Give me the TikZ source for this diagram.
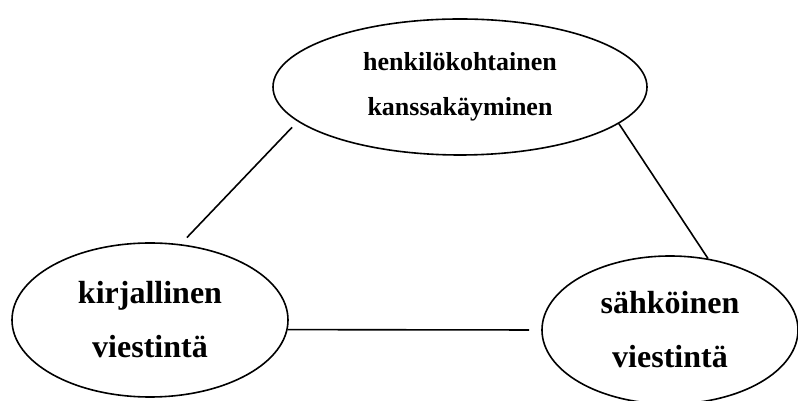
\documentclass[tikz,border=0pt]{standalone}
\usepackage{fontspec}
\setmainfont{Liberation Serif}
\usetikzlibrary{shapes.geometric}

\begin{document}
\begin{tikzpicture}[
    x=1pt, y=1pt,
    bubble/.style={ellipse, draw, line width=1.6pt, inner sep=0pt, align=center, font=\bfseries\fontsize{32}{54}\selectfont},
    smallbubble/.style={bubble, font=\bfseries\fontsize{26}{45}\selectfont},
    link/.style={line width=1.6pt}
    ]
    \useasboundingbox (0,0) rectangle (798,401);

    % Personal interaction node
    \node (henkilo) [smallbubble, minimum width=374pt, minimum height=136pt] at (460,314) {henkilökohtainen\\kanssakäyminen};

    % Written and electronic communication nodes
    \node (kirjallinen) [bubble, minimum width=276pt, minimum height=154pt] at (150,81) {kirjallinen\\viestintä};
    \node (sahkoinen) [bubble, minimum width=256pt, minimum height=148pt] at (670,71) {sähköinen\\viestintä};

    % Lines between the nodes
    \draw[link, shorten <=8pt, shorten >=9pt] (henkilo.192) -- (kirjallinen.68);
    \draw[link] (henkilo.347.7) -- (sahkoinen.62.8);
    \draw[link, shorten >=12pt] (kirjallinen.-4) -- (sahkoinen.west);
\end{tikzpicture}
\end{document}
